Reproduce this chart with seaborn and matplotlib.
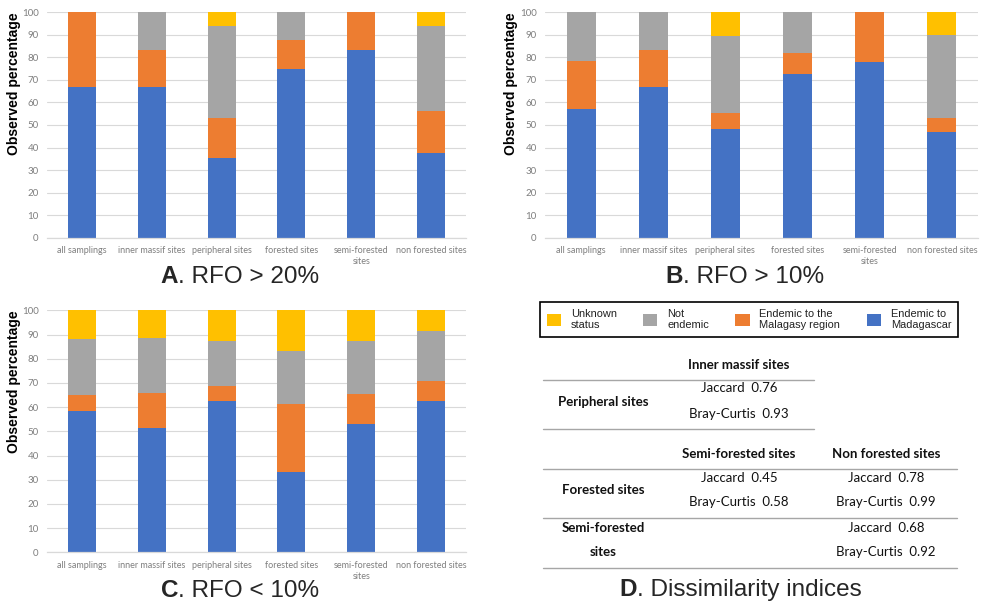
import numpy as np
import pandas as pd
import matplotlib
matplotlib.use("Agg")
import matplotlib.pyplot as plt
from matplotlib.patches import Patch
from matplotlib.lines import Line2D
import seaborn as sns

# ---- data -------------------------------------------------------------
categories = ["all samplings", "inner massif sites", "peripheral sites",
              "forested sites", "semi-forested\nsites", "non forested sites"]
status_labels = ["Unknown\nstatus", "Not\nendemic",
                 "Endemic to the\nMalagasy region", "Endemic to\nMadagascar"]

# RFO > 20%
a_madagascar = [66.7, 66.7, 35.3, 75.0, 83.3, 37.5]
a_malagasy   = [33.3, 16.7, 17.6, 12.5, 16.7, 18.75]
a_not_endem  = [0.0, 16.6, 41.2, 12.5, 0.0, 37.5]
a_unknown    = [0.0, 0.0, 5.9, 0.0, 0.0, 6.25]

# RFO > 10%
b_madagascar = [57.1, 66.7, 48.3, 72.7, 77.8, 46.7]
b_malagasy   = [21.4, 16.7, 6.9, 9.1, 22.2, 6.6]
b_not_endem  = [21.5, 16.6, 34.5, 18.2, 0.0, 36.7]
b_unknown    = [0.0, 0.0, 10.3, 0.0, 0.0, 10.0]

# RFO < 10%
c_madagascar = [58.3, 51.4, 62.5, 33.3, 53.1, 62.5]
c_malagasy   = [6.6, 14.3, 6.25, 27.8, 12.5, 8.3]
c_not_endem  = [23.3, 22.9, 18.75, 22.2, 21.9, 20.8]
c_unknown    = [11.8, 11.4, 12.5, 16.7, 12.5, 8.4]

# dissimilarity indices
jaccard_periph_inner = 0.76
bray_periph_inner = 0.93
jaccard_forest_semi = 0.45
bray_forest_semi = 0.58
jaccard_forest_non = 0.78
bray_forest_non = 0.99
jaccard_semi_non = 0.68
bray_semi_non = 0.92

# ---- style ------------------------------------------------------------
BLUE, ORANGE, GREY, YELLOW = "#4472C4", "#ED7D31", "#A5A5A5", "#FFC000"
TICK_COL = "#7F7F7F"
GRID_COL = "#D9D9D9"
sns.set_theme(style="white")
plt.rcParams["font.family"] = ["Liberation Sans", "DejaVu Sans"]

W, H = 981, 602
fig = plt.figure(figsize=(W / 100, H / 100), dpi=100)


def fx(px):
    return px / W


def fy(py):
    return 1 - py / H


def stacked_panel(rect, madag, malag, notend, unknown):
    ax = fig.add_axes(rect)
    df = pd.DataFrame({"site": categories, "madag": madag, "malag": malag,
                       "notend": notend, "unknown": unknown})
    df["c1"] = df["madag"]
    df["c2"] = df["c1"] + df["malag"]
    df["c3"] = df["c2"] + df["notend"]
    df["c4"] = df["c3"] + df["unknown"]
    for col, colr in [("c4", YELLOW), ("c3", GREY), ("c2", ORANGE), ("c1", BLUE)]:
        sns.barplot(data=df, x="site", y=col, color=colr, width=0.4,
                    saturation=1, errorbar=None, linewidth=0, ax=ax)
    ax.set_ylim(0, 100)
    ax.set_xlim(-0.5, 5.5)
    ax.set_yticks(np.arange(0, 101, 10))
    ax.yaxis.grid(True, color=GRID_COL, lw=0.8)
    ax.set_axisbelow(True)
    for s in ["left", "right", "top"]:
        ax.spines[s].set_visible(False)
    ax.spines["bottom"].set_color(GRID_COL)
    ax.spines["bottom"].set_linewidth(0.9)
    ax.tick_params(axis="both", length=0, colors=TICK_COL)
    ax.tick_params(axis="x", pad=6, labelsize=6.5)
    ax.tick_params(axis="y", pad=6, labelsize=7.0)
    for lab in ax.get_xticklabels() + ax.get_yticklabels():
        lab.set_fontfamily(["Lato", "DejaVu Sans"])
        lab.set_linespacing(1.3)
    ax.set_xlabel("")
    ax.set_ylabel("")
    return ax


# panel rectangles (figure fractions)
stacked_panel([fx(47), fy(237.7), fx(466 - 47), (237.7 - 12.3) / H],
              a_madagascar, a_malagasy, a_not_endem, a_unknown)
stacked_panel([fx(545), fy(237.7), fx(978 - 545), (237.7 - 12.3) / H],
              b_madagascar, b_malagasy, b_not_endem, b_unknown)
stacked_panel([fx(47), fy(552.3), fx(466 - 47), (552.3 - 310.3) / H],
              c_madagascar, c_malagasy, c_not_endem, c_unknown)

# y axis titles
for x, y in [(14, 12), (511, 12), (14, 310)]:
    fig.text(fx(x), fy(y), "Observed percentage", rotation=90, ha="center",
             va="top", fontsize=10, fontweight="bold", color="black")


def panel_title(x_split, y_base, letter, rest):
    fig.text(fx(x_split), fy(y_base), letter, ha="right", va="baseline",
             fontsize=17.5, fontweight="bold")
    fig.text(fx(x_split), fy(y_base), rest, ha="left", va="baseline",
             fontsize=17.5)


panel_title(178, 283, "A", ". RFO > 20%")
panel_title(683, 283, "B", ". RFO > 10%")
panel_title(178, 597, "C", ". RFO < 10%")
panel_title(637, 596, "D", ". Dissimilarity indices")

# legend
handles = [Patch(facecolor=c, edgecolor="none")
           for c in [YELLOW, GREY, ORANGE, BLUE]]
leg = fig.legend(handles, status_labels, loc="lower left",
                 bbox_to_anchor=(fx(540), fy(337), fx(958 - 540), 46 / H),
                 mode="expand", ncol=4, borderaxespad=0, fancybox=False,
                 edgecolor="black", framealpha=1, fontsize=7.9,
                 handlelength=1.3, handleheight=1.3, handletextpad=0.9,
                 borderpad=0.6, columnspacing=1.0)
leg.get_frame().set_linewidth(1.2)
for t in leg.get_texts():
    t.set_color("#222222")

# dissimilarity table
TFONT = ["Lato", "DejaVu Sans"]
LINE_COL = "#A6A6A6"


def hline(x0, x1, y):
    fig.add_artist(Line2D([fx(x0), fx(x1)], [fy(y), fy(y)],
                          color=LINE_COL, lw=1.0))


def tcell(x, y, s, bold=False):
    fig.text(fx(x), fy(y), s, ha="center", va="center", fontsize=9.5,
             fontweight="bold" if bold else "normal", family=TFONT,
             color="#111111")


col_row, col1, col2 = 603, 739, 886

tcell(col1, 365, "Inner massif sites", bold=True)
hline(543, 814, 380)
tcell(col_row, 402, "Peripheral sites", bold=True)
tcell(col1, 388, f"Jaccard  {jaccard_periph_inner:.2f}")
tcell(col1, 414, f"Bray-Curtis  {bray_periph_inner:.2f}")
hline(543, 814, 429)

tcell(col1, 454, "Semi-forested sites", bold=True)
tcell(col2, 454, "Non forested sites", bold=True)
hline(543, 957, 469)
tcell(col_row, 490, "Forested sites", bold=True)
tcell(col1, 478, f"Jaccard  {jaccard_forest_semi:.2f}")
tcell(col1, 502, f"Bray-Curtis  {bray_forest_semi:.2f}")
tcell(col2, 478, f"Jaccard  {jaccard_forest_non:.2f}")
tcell(col2, 502, f"Bray-Curtis  {bray_forest_non:.2f}")
hline(543, 957, 518)
tcell(col_row, 528, "Semi-forested", bold=True)
tcell(col_row, 552, "sites", bold=True)
tcell(col2, 528, f"Jaccard  {jaccard_semi_non:.2f}")
tcell(col2, 552, f"Bray-Curtis  {bray_semi_non:.2f}")
hline(543, 957, 568)

fig.savefig("out.png", dpi=100)
